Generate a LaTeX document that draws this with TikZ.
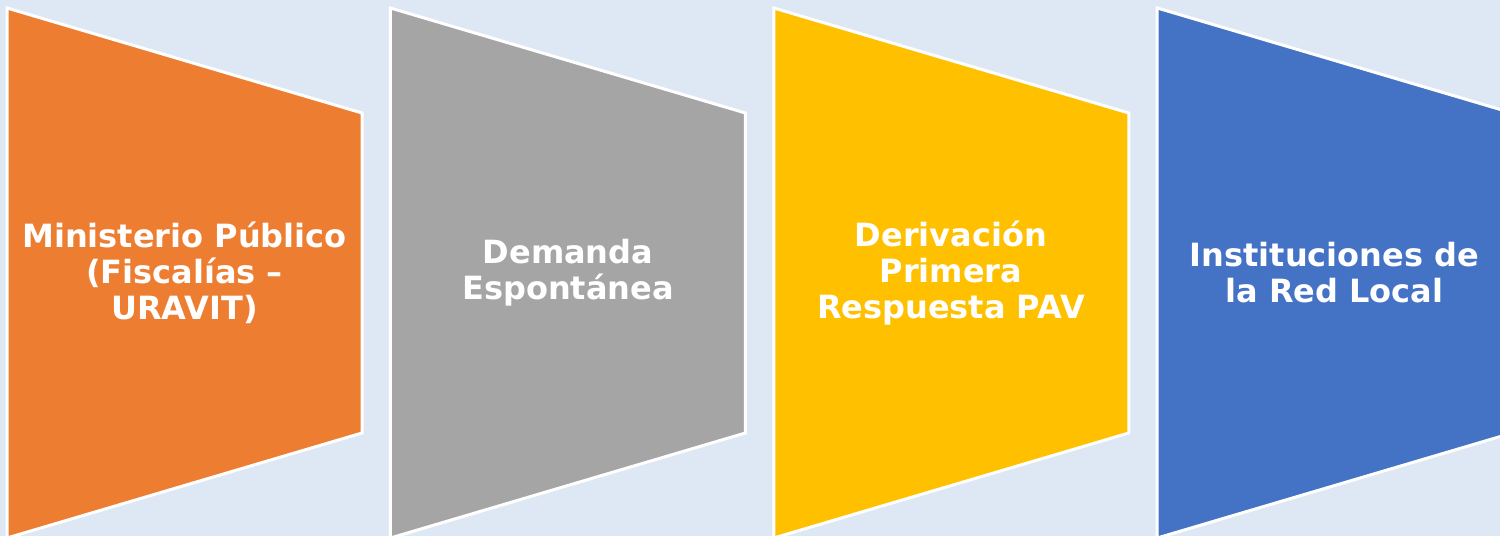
\documentclass[tikz,border=0pt]{standalone}
\usepackage{fontspec}
\setmainfont{DejaVu Sans}
\definecolor{bgblue}{HTML}{DEE7F4}
\definecolor{corange}{HTML}{ED7D31}
\definecolor{cgray}{HTML}{A5A5A5}
\definecolor{cyellow}{HTML}{FFC000}
\definecolor{cblue}{HTML}{4472C4}
\tikzset{
  stage/.style={draw=white, line width=3pt, line join=miter},
  label/.style={text=white, font=\fontsize{32}{36}\selectfont\bfseries, align=center, inner sep=0pt}
}
\begin{document}
\begin{tikzpicture}[x=1pt,y=1pt]
\fill[bgblue] (0,0) rectangle (1500,536);
\useasboundingbox (0,0) rectangle (1500,536);
\foreach \i/\c in {0/corange,1/cgray,2/cyellow,3/cblue}{
  \pgfmathsetmacro{\xl}{7+383.4*\i}
  \pgfmathsetmacro{\xr}{\xl+355}
  \path[stage, fill=\c] (\xl,528) -- (\xr,423) -- (\xr,103) -- (\xl,-2) -- cycle;
}
\node[label] (t1) at (184.5,263) {Ministerio Público\\(Fiscalías –\\URAVIT)};
\node[label] (t2) at (568,263) {Demanda\\Espontánea};
\node[label] (t3) at (951,263) {Derivación\\Primera\\Respuesta PAV};
\node[label] (t4) at (1334.5,263) {Instituciones de\\la Red Local};
\end{tikzpicture}
\end{document}
